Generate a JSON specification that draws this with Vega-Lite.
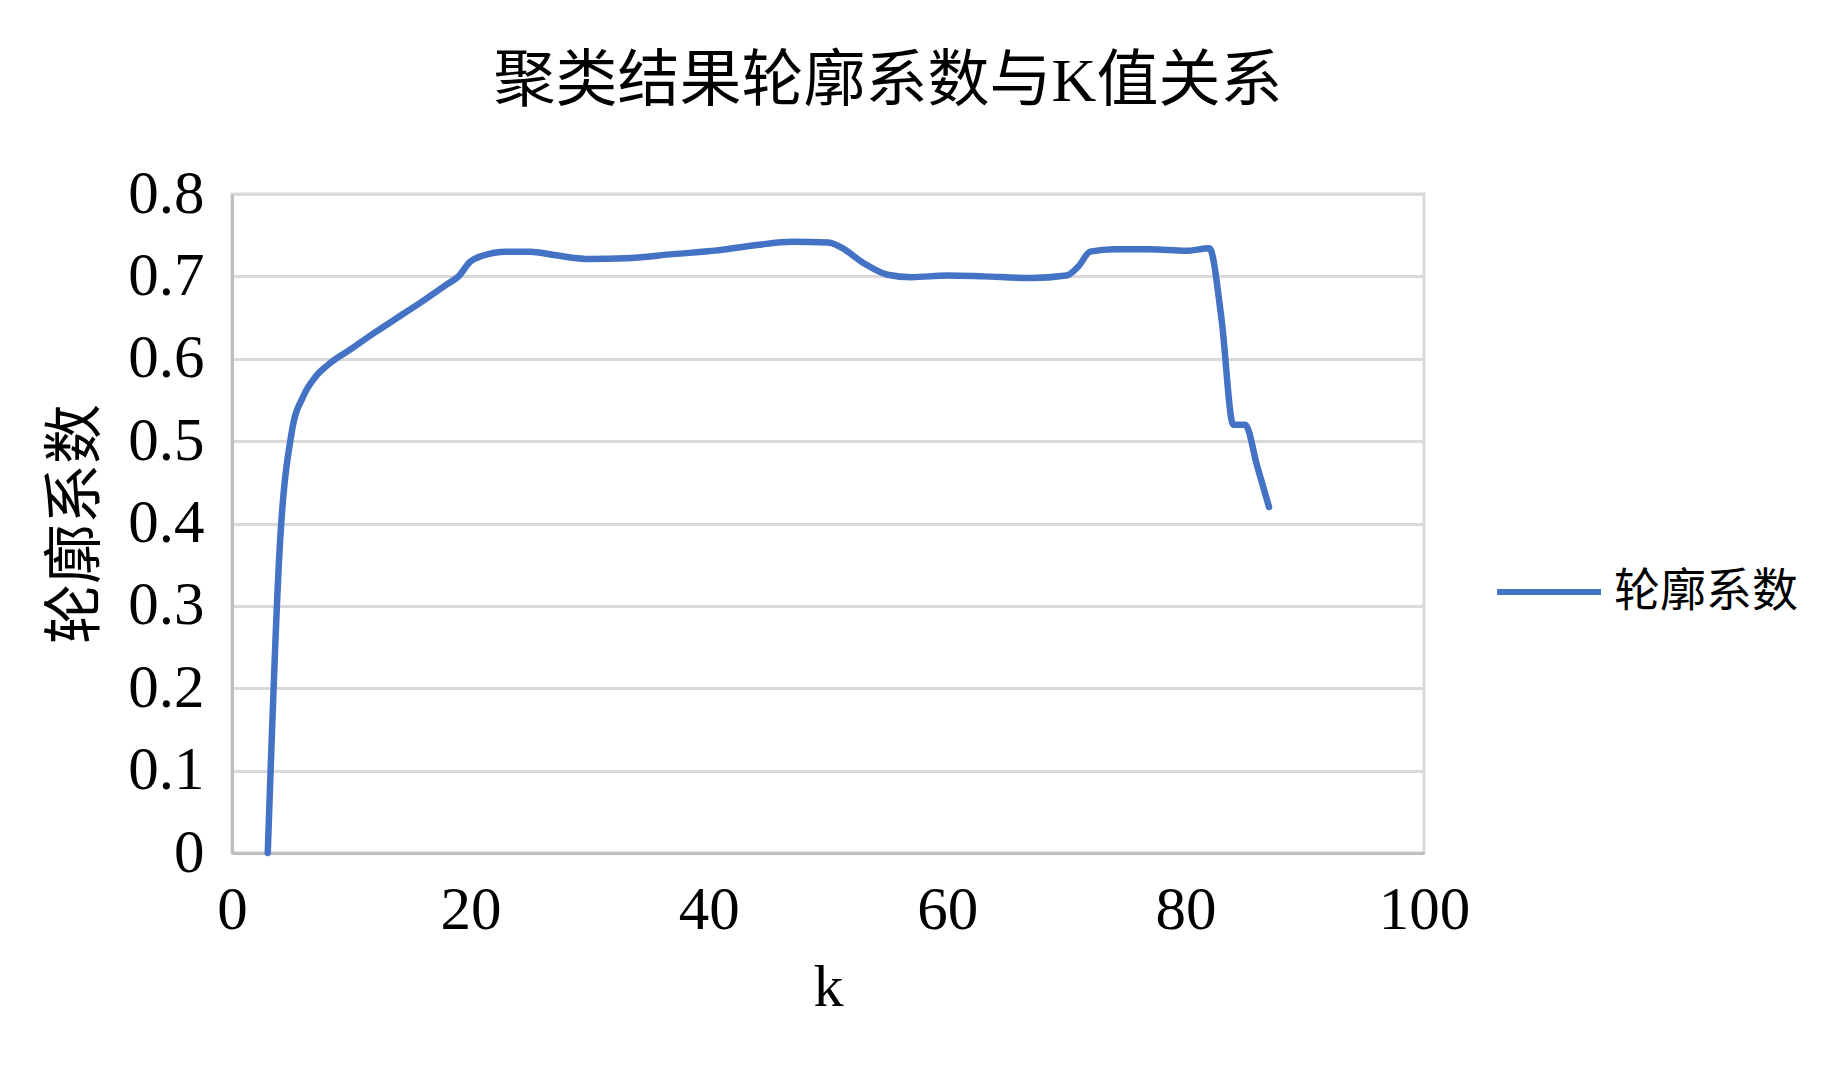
{
  "$schema": "https://vega.github.io/schema/vega-lite/v6.json",
  "width": 1192,
  "height": 659,
  "autosize": {"type": "none"},
  "padding": {"left": 232, "top": 194, "right": 421, "bottom": 230},
  "background": "white",
  "title": {
    "text": "聚类结果轮廓系数与K值关系",
    "font": "Liberation Serif, Noto Sans CJK SC",
    "fontSize": 62,
    "fontWeight": "normal",
    "color": "#000000",
    "anchor": "middle",
    "frame": "group",
    "dx": 60,
    "offset": 49
  },
  "data": {
    "values": [
      {"k": 3, "v": 0},
      {"k": 4, "v": 0.37},
      {"k": 5, "v": 0.51},
      {"k": 6, "v": 0.555},
      {"k": 7, "v": 0.578},
      {"k": 8, "v": 0.592},
      {"k": 10, "v": 0.612},
      {"k": 12, "v": 0.632},
      {"k": 14, "v": 0.651},
      {"k": 16, "v": 0.67},
      {"k": 18, "v": 0.69},
      {"k": 19, "v": 0.7},
      {"k": 20, "v": 0.718},
      {"k": 21, "v": 0.725},
      {"k": 23, "v": 0.73},
      {"k": 25, "v": 0.73},
      {"k": 27, "v": 0.726},
      {"k": 30, "v": 0.721},
      {"k": 33, "v": 0.722},
      {"k": 37, "v": 0.727},
      {"k": 41, "v": 0.732},
      {"k": 44, "v": 0.738},
      {"k": 47, "v": 0.742},
      {"k": 50, "v": 0.741},
      {"k": 51, "v": 0.736},
      {"k": 53, "v": 0.716},
      {"k": 55, "v": 0.702},
      {"k": 57, "v": 0.699},
      {"k": 60, "v": 0.701},
      {"k": 63, "v": 0.7},
      {"k": 67, "v": 0.698},
      {"k": 70, "v": 0.701},
      {"k": 71, "v": 0.712},
      {"k": 72, "v": 0.73},
      {"k": 74, "v": 0.733},
      {"k": 77, "v": 0.733},
      {"k": 80, "v": 0.731},
      {"k": 82, "v": 0.734},
      {"k": 83, "v": 0.65},
      {"k": 84, "v": 0.52},
      {"k": 85, "v": 0.52},
      {"k": 86, "v": 0.47},
      {"k": 87, "v": 0.42}
    ]
  },
  "mark": {"type": "line", "strokeWidth": 6.5, "interpolate": "monotone", "strokeCap": "round", "strokeJoin": "round"},
  "encoding": {
    "x": {
      "field": "k",
      "type": "quantitative",
      "scale": {"domain": [0, 100], "nice": false},
      "axis": {
        "values": [0, 20, 40, 60, 80, 100],
        "title": "k",
        "grid": false,
        "ticks": false,
        "domainColor": "#bfbfbf",
        "domainWidth": 3,
        "labelFont": "Liberation Serif",
        "labelFontSize": 61,
        "labelColor": "#000000",
        "labelPadding": 27,
        "labelFlush": false,
        "titleFont": "Liberation Serif",
        "titleFontSize": 60,
        "titleFontWeight": "normal",
        "titleColor": "#000000",
        "titlePadding": 18
      }
    },
    "y": {
      "field": "v",
      "type": "quantitative",
      "scale": {"domain": [0, 0.8], "nice": false},
      "axis": {
        "values": [0, 0.1, 0.2, 0.3, 0.4, 0.5, 0.6, 0.7, 0.8],
        "format": "~g",
        "title": "轮廓系数",
        "grid": true,
        "gridColor": "#d9d9d9",
        "gridWidth": 3,
        "ticks": false,
        "domainColor": "#bfbfbf",
        "domainWidth": 3,
        "labelFont": "Liberation Serif",
        "labelFontSize": 61,
        "labelColor": "#000000",
        "labelPadding": 28,
        "labelFlush": false,
        "titleFont": "Noto Sans CJK SC",
        "titleFontSize": 60,
        "titleFontWeight": "normal",
        "titleColor": "#000000",
        "titlePadding": 20
      }
    },
    "color": {
      "datum": "轮廓系数",
      "type": "nominal",
      "scale": {"range": ["#4472C4"]},
      "legend": {
        "title": null,
        "orient": "none",
        "legendX": 1262,
        "legendY": 343,
        "symbolType": "stroke",
        "symbolSize": 10816,
        "symbolStrokeWidth": 6,
        "labelFont": "Noto Sans CJK SC",
        "labelFontSize": 46,
        "labelColor": "#000000",
        "labelOffset": 10,
        "labelLimit": 400
      }
    }
  },
  "config": {
    "view": {"stroke": "#d9d9d9", "strokeWidth": 3}
  }
}
